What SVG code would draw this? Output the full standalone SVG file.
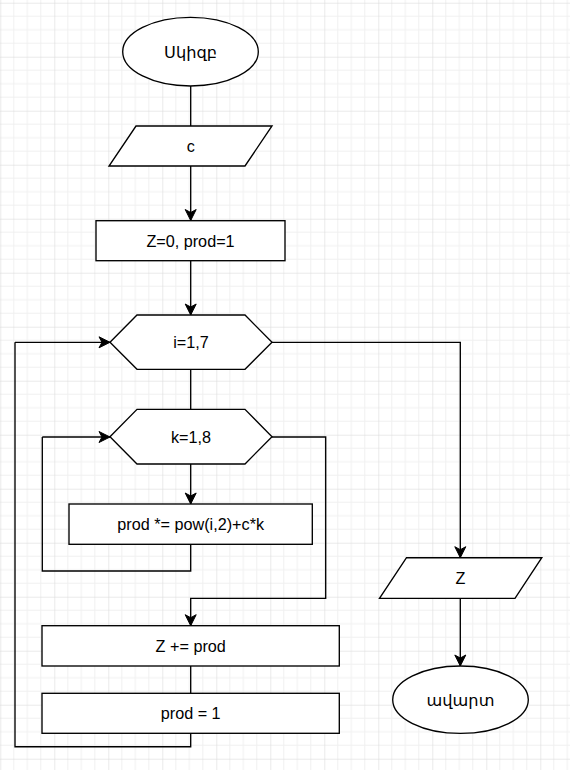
<svg xmlns="http://www.w3.org/2000/svg" width="570" height="770" viewBox="0 0 570 770">
<defs>
<pattern id="grid" patternUnits="userSpaceOnUse" x="0.3" y="2.7" width="54" height="54">
<path d="M13.5,0V54M27,0V54M40.5,0V54M0,13.5H54M0,27H54M0,40.5H54" stroke="#f0f0f0" stroke-width="1" fill="none"/>
<path d="M0,0V54M0,0H54" stroke="#d6d6d6" stroke-width="1" fill="none"/>
</pattern>
<marker id="arr" markerUnits="userSpaceOnUse" markerWidth="14" markerHeight="14" viewBox="-12 -7 14 14" refX="0" refY="0" orient="auto">
<path d="M0,0 L-11,-5.5 L-8,0 L-11,5.5 Z" fill="#000" stroke="#000" stroke-width="1"/>
</marker>
</defs>
<style>
.shape{fill:#fff;stroke:#000;stroke-width:1.35}
.lbl{font-family:"Liberation Sans","DejaVu Sans",Arial,sans-serif;font-size:16.2px;fill:#000;text-anchor:middle;dominant-baseline:central}
.edge{fill:none;stroke:#000;stroke-width:1.35}
.arrow{marker-end:url(#arr)}
</style>
<rect x="0" y="0" width="570" height="770" fill="#fff"/>
<rect x="0" y="0" width="570" height="770" fill="url(#grid)"/>

<g id="edges">
<path class="edge" d="M190.7,86 V126"/>
<path class="edge arrow" d="M190.7,166 V220.5"/>
<path class="edge arrow" d="M190.7,261 V315"/>
<path class="edge" d="M190.7,369 V409.5"/>
<path class="edge arrow" d="M190.7,464 V504"/>
<path class="edge" d="M190.7,544.3 V571 H42.3 V437"/>
<path class="edge arrow" d="M42.3,437 H110"/>
<path class="edge arrow" d="M272,437 H325.7 V598.3 H190.7 V625.7"/>
<path class="edge" d="M190.7,666 V693.3"/>
<path class="edge" d="M190.7,733.3 V746.7 H15 V342.3"/>
<path class="edge arrow" d="M15,342.3 H110"/>
<path class="edge arrow" d="M272,342.3 H460.3 V557.7"/>
<path class="edge arrow" d="M460.3,598.3 V666"/>
</g>

<g id="start">
<ellipse class="shape" cx="190.5" cy="51.7" rx="67.8" ry="34.3"/>
<text class="lbl" x="190.5" y="51.7">Սկիզբ</text>
</g>
<g id="input-c">
<polygon class="shape" points="136,126 272,126 245,166 109,166"/>
<text class="lbl" x="190.7" y="146">c</text>
</g>
<g id="init">
<rect class="shape" x="96" y="220.7" width="189" height="40"/>
<text class="lbl" x="190.5" y="240.7">Z=0, prod=1</text>
</g>
<g id="loop-i">
<polygon class="shape" points="110,342.3 137,315 245,315 272,342.3 245,369.3 137,369.3"/>
<text class="lbl" x="191" y="342.3">i=1,7</text>
</g>
<g id="loop-k">
<polygon class="shape" points="110,436.7 137,409.3 245,409.3 272,436.7 245,464 137,464"/>
<text class="lbl" x="191" y="436.7">k=1,8</text>
</g>
<g id="prod-mul">
<rect class="shape" x="69" y="504" width="243.3" height="40.3"/>
<text class="lbl" x="190.7" y="524.2">prod *= pow(i,2)+c*k</text>
</g>
<g id="z-add">
<rect class="shape" x="42" y="625.7" width="297.3" height="40.3"/>
<text class="lbl" x="190.7" y="645.8">Z += prod</text>
</g>
<g id="prod-reset">
<rect class="shape" x="42" y="693.3" width="297.3" height="40"/>
<text class="lbl" x="190.7" y="713.3">prod = 1</text>
</g>
<g id="output-z">
<polygon class="shape" points="406.5,557.7 541.8,557.7 515,598.3 379.5,598.3"/>
<text class="lbl" x="460.5" y="578">Z</text>
</g>
<g id="end">
<ellipse class="shape" cx="460.5" cy="699.7" rx="67.8" ry="33.7"/>
<text class="lbl" x="460.5" y="699.7">ավարտ</text>
</g>
</svg>
